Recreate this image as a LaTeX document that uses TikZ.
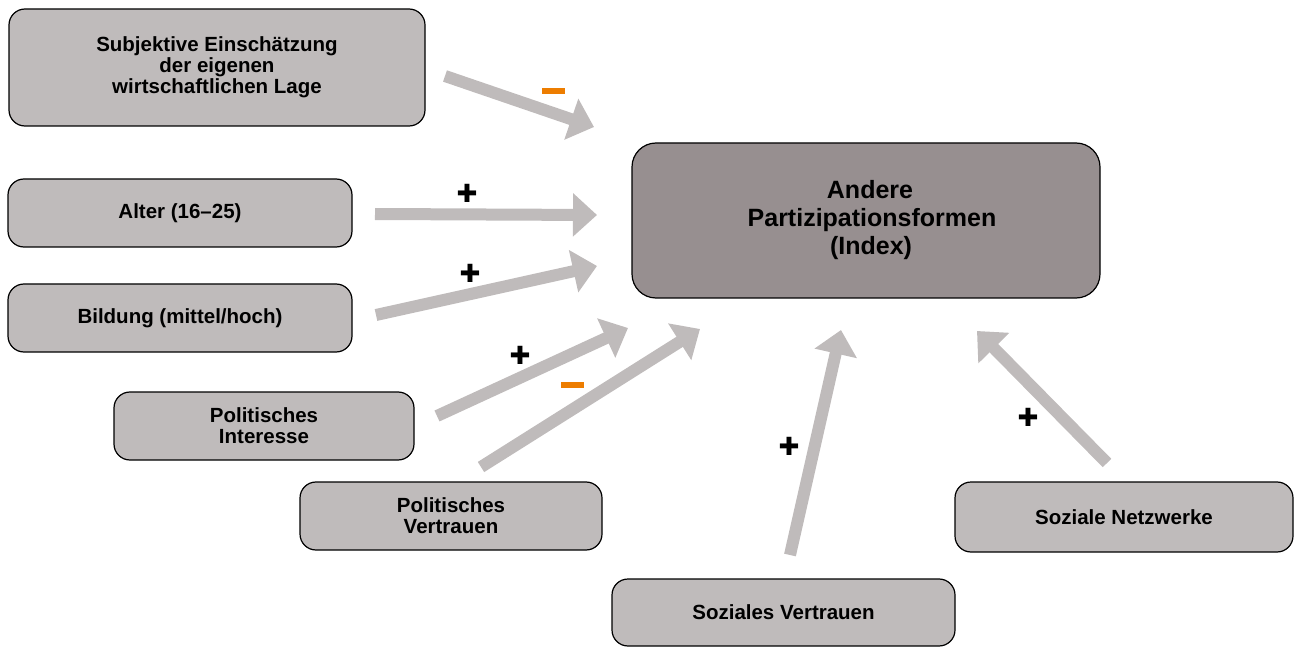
\documentclass[tikz,border=0pt]{standalone}
\usepackage{fontspec}
\setmainfont{Liberation Sans}
\newfontfamily\signfont{DejaVu Sans}
\usetikzlibrary{arrows.meta}
\definecolor{boxgray}{RGB}{191,187,187}
\definecolor{centergray}{RGB}{151,143,144}
\definecolor{signorange}{RGB}{237,125,0}
\tikzset{
  varbox/.style={draw=black, line width=1.2pt, fill=boxgray, rounded corners=16pt, align=center, inner sep=0pt, font=\bfseries\fontsize{20.5}{21}\selectfont},
  mainbox/.style={draw=black, line width=1.2pt, fill=centergray, rounded corners=24pt, align=center, inner sep=0pt, font=\bfseries\fontsize{25}{28}\selectfont},
  effect/.style={draw=boxgray, line width=12pt, -{Triangle[length=24pt,width=42pt]}},
  plus/.style={font=\signfont\fontsize{25}{25}\selectfont, inner sep=0pt},
  minus/.style={fill=signorange, minimum width=23pt, minimum height=6pt, inner sep=0pt},
}
\begin{document}
\begin{tikzpicture}[x=1pt,y=-1pt]
\useasboundingbox (0,0) rectangle (1294,647);
% nodes
\node[varbox, minimum width=416pt, minimum height=117pt] (subj) at (217,67.5) {Subjektive Einschätzung\\der eigenen\\wirtschaftlichen Lage};
\node[varbox, minimum width=344pt, minimum height=68pt] (alter) at (180,213) {Alter (16–25)};
\node[varbox, minimum width=344pt, minimum height=68pt] (bild) at (180,318) {Bildung (mittel/hoch)};
\node[varbox, minimum width=300pt, minimum height=68pt] (polint) at (264,426) {Politisches\\Interesse};
\node[varbox, minimum width=302pt, minimum height=68pt] (polver) at (451,516) {Politisches\\Vertrauen};
\node[varbox, minimum width=343pt, minimum height=67pt] (sozver) at (783.5,612.5) {Soziales Vertrauen};
\node[varbox, minimum width=338pt, minimum height=70pt] (soznet) at (1124,517) {Soziale Netzwerke};
\node[mainbox, minimum width=468pt, minimum height=155pt, text width=440pt] (main) at (866,220.5) {\hspace*{8pt}Andere\\\hspace*{12pt}Partizipationsformen\\\hspace*{10pt}(Index)};
% arrow end points
\coordinate (s1) at (445,76);  \coordinate (t1) at (594,127);
\coordinate (s2) at (375,214); \coordinate (t2) at (597,215);
\coordinate (s3) at (376,315); \coordinate (t3) at (597,266);
\coordinate (s4) at (437,416); \coordinate (t4) at (628,328);
\coordinate (s5) at (481,467); \coordinate (t5) at (700,329);
\coordinate (s6) at (790,555); \coordinate (t6) at (841,330);
\coordinate (s7) at (1107,463); \coordinate (t7) at (977,331);
\draw[effect] (s1) -- (t1);
\draw[effect] (s2) -- (t2);
\draw[effect] (s3) -- (t3);
\draw[effect] (s4) -- (t4);
\draw[effect] (s5) -- (t5);
\draw[effect] (s6) -- (t6);
\draw[effect] (s7) -- (t7);
% signs
\node[minus] (m1) at (553.5,91.5) {};
\node[plus] (p2) at (467,193) {✚};
\node[plus] (p3) at (470,273) {✚};
\node[plus] (p4) at (520,355) {✚};
\node[minus] (m5) at (572.5,385) {};
\node[plus] (p6) at (789,446) {✚};
\node[plus] (p7) at (1028,417) {✚};
\end{tikzpicture}
\end{document}
